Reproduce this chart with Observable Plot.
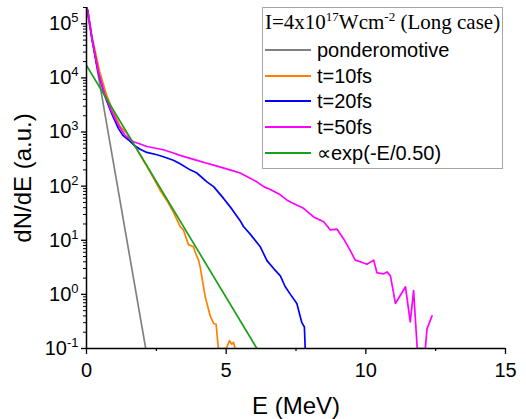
<!DOCTYPE html>
<html>
<head>
<meta charset="utf-8">
<script src="https://cdn.jsdelivr.net/npm/d3@7"></script>
<script src="https://cdn.jsdelivr.net/npm/@observablehq/plot@0.6"></script>
<style>
  html, body { margin: 0; padding: 0; background: #fff; }
  #wrap { position: relative; width: 526px; height: 419px; font-family: "Liberation Sans", Arial, sans-serif; }
  #legend { position: absolute; left: 262px; top: 7px; width: 241px; height: 162px; box-sizing: border-box;
            border: 1px solid #a6a6a6; background: #fff; }
  #legend .title { position: absolute; left: 2px; top: 4px; font-family: "Liberation Serif", "Times New Roman", serif;
                   font-size: 21px; line-height: 21px; white-space: nowrap; color: #000; }
  #legend .title .sup { font-size: 13px; position: relative; top: -8px; }
  #legend .row { position: absolute; left: 0; height: 20px; width: 100%; }
  #legend .swatch { position: absolute; left: 2px; top: 9px; width: 46px; height: 2px; }
  #legend .lab { position: absolute; left: 54px; top: 0; font-size: 20px; line-height: 20px; white-space: nowrap; color: #000; }
</style>
</head>
<body>
<div id="wrap"></div>
<script>
// ---- axis ticks ----
const xTicks = [0, 5, 10, 15];
const xMinorTicks = [2.5, 7.5, 12.5];
const yTicks = [0.1, 1, 10, 100, 1000, 10000, 100000];
const yMinorTicks = [];
for (const p of [-1, 0, 1, 2, 3, 4, 5]) for (const m of [2, 3, 4, 5, 6, 7, 8, 9]) {
  const v = m * Math.pow(10, p);
  if (v <= 2e5) yMinorTicks.push(v);
}

// ---- series (E in MeV, dN/dE in a.u.) ----
const seriesNames = ["ponderomotive", "t=10fs", "t=20fs", "t=50fs", "\u221Dexp(-E/0.50)"];
const seriesColors = ["#808080", "#ff8000", "#0000ff", "#ff00ff", "#1aa01a"];

const pondE = [0, 0.84, 2.12];
const pondV = [2.0e5, 630, 0.1];

const t10E = [0, 0.04, 0.20, 0.47, 0.72, 0.96, 1.20, 1.44, 1.62, 1.92, 2.30, 2.63, 2.87, 3.11, 3.35, 3.47, 3.65, 3.83, 3.89, 4.01, 4.07, 4.25, 4.43, 4.55, 4.64, 4.72, 5.00, 5.12, 5.20, 5.26, 5.32];
const t10V = [2.0e5, 1.8e5, 5.8e4, 1.32e4, 4800, 2350, 1290, 950, 680, 380, 175, 85, 55, 33, 18, 15.5, 8.3, 7.6, 6.0, 4.3, 3.2, 0.9, 0.4, 0.29, 0.28, 0.1, 0.1, 0.14, 0.12, 0.13, 0.1];

const t20E = [0, 0.04, 0.19, 0.42, 0.66, 0.90, 1.14, 1.30, 1.50, 1.74, 1.92, 2.16, 2.52, 2.75, 3.11, 3.35, 3.71, 3.95, 4.31, 4.55, 4.90, 5.20, 5.50, 5.62, 5.86, 6.22, 6.46, 6.70, 6.94, 7.11, 7.30, 7.53, 7.71, 7.80, 7.83];
const t20V = [2.0e5, 1.8e5, 5.5e4, 1.26e4, 4600, 2200, 1170, 870, 720, 550, 480, 420, 380, 350, 300, 260, 200, 175, 120, 98, 60, 38, 23, 18, 13, 7.6, 4.2, 3.0, 2.2, 1.4, 1.0, 0.68, 0.30, 0.25, 0.1];

const t50E = [0, 0.04, 0.19, 0.42, 0.66, 0.90, 1.14, 1.38, 1.68, 1.92, 2.16, 2.75, 3.11, 3.35, 3.95, 4.31, 4.55, 5.14, 5.50, 5.74, 6.10, 6.34, 6.58, 6.94, 7.18, 7.41, 7.77, 8.13, 8.49, 8.73, 8.97, 9.20, 9.44, 9.62, 9.80, 10.04, 10.28, 10.40, 10.64, 10.76, 10.88, 11.06, 11.42, 11.59, 11.71, 11.84, 12.13, 12.19, 12.37];
const t50V = [2.0e5, 1.8e5, 5.5e4, 1.32e4, 4900, 2400, 1350, 870, 660, 600, 540, 470, 410, 370, 300, 265, 245, 200, 175, 150, 120, 98, 87, 69, 55, 48, 39, 27, 22, 15.5, 16, 10.7, 6.5, 4.3, 4.0, 3.6, 4.3, 2.5, 2.4, 2.6, 2.2, 0.68, 1.38, 0.31, 1.17, 0.1, 0.1, 0.23, 0.40];

const fitE = [0, 6.1];
const fitV = [1.7e4, 0.1];

const seriesE = [pondE, t10E, t20E, t50E, fitE];
const seriesV = [pondV, t10V, t20V, t50V, fitV];

const lineMarks = seriesE.map((E, i) =>
  Plot.line(E.map((e, j) => ({E: e, v: seriesV[i][j]})),
    {x: "E", y: "v", stroke: seriesColors[i], strokeWidth: 1.7, clip: true})
);

const chart = Plot.plot({
  width: 526,
  height: 419,
  marginLeft: 86,
  marginRight: 21,
  marginTop: 7,
  marginBottom: 71,
  style: {fontFamily: "'Liberation Sans', Arial, sans-serif", color: "#000", background: "transparent"},
  x: {domain: [0, 15]},
  y: {type: "log", domain: [0.1, 2e5]},
  marks: [
    ...lineMarks,
    Plot.axisX({ticks: xTicks, tickSize: 6, tickPadding: 8, fontSize: 20, strokeWidth: 1.3, label: null}),
    Plot.axisX({ticks: xMinorTicks, tickSize: 3, tickFormat: () => "", strokeWidth: 1.2, label: null}),
    Plot.axisX({ticks: [], label: "E (MeV)", labelArrow: "none", labelAnchor: "center", labelOffset: 65, fontSize: 24}),
    Plot.axisY({ticks: yTicks, tickSize: 5, tickPadding: 3, fontSize: 20, strokeWidth: 1.3,
      tickFormat: d => "10^" + Math.round(Math.log10(d)), label: null}),
    Plot.axisY({ticks: yMinorTicks, tickSize: 3, tickFormat: () => "", strokeWidth: 1, label: null}),
    Plot.axisY({ticks: [], label: "dN/dE (a.u.)", labelArrow: "none", labelAnchor: "center", labelOffset: 73, fontSize: 24}),
    Plot.ruleX([0], {stroke: "#000", strokeWidth: 1.5}),
    Plot.ruleY([0.1], {stroke: "#000", strokeWidth: 1.5})
  ]
});

// superscript exponents on the y tick labels
chart.querySelectorAll("text").forEach(t => {
  const m = /^10\^(-?\d+)$/.exec(t.textContent);
  if (m) {
    t.textContent = "";
    const base = document.createElementNS("http://www.w3.org/2000/svg", "tspan");
    base.textContent = "10";
    const sup = document.createElementNS("http://www.w3.org/2000/svg", "tspan");
    sup.textContent = m[1];
    sup.setAttribute("font-size", "13");
    sup.setAttribute("dy", "-8");
    t.appendChild(base);
    t.appendChild(sup);
  }
});

const wrap = document.getElementById("wrap");
wrap.appendChild(chart);

// legend
const legend = document.createElement("div");
legend.id = "legend";
legend.innerHTML = '<div class="title">I=4x10<span class="sup">17</span>Wcm<span class="sup">-2</span> (Long case)</div>';
const rowCenters = [42, 67.5, 93, 119, 145];
seriesNames.forEach((name, i) => {
  const row = document.createElement("div");
  row.className = "row";
  row.style.top = (rowCenters[i] - 10) + "px";
  row.innerHTML = `<div class="swatch" style="background:${seriesColors[i]}"></div><div class="lab"></div>`;
  row.querySelector(".lab").textContent = name;
  legend.appendChild(row);
});
wrap.appendChild(legend);
</script>
</body>
</html>
